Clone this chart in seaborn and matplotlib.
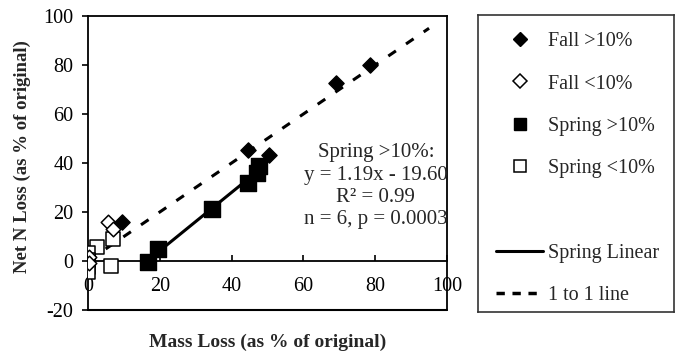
import matplotlib
matplotlib.use("Agg")
import matplotlib.pyplot as plt
import seaborn as sns
from matplotlib.lines import Line2D

sns.set_theme(style="white")
plt.rcParams['font.family'] = ['Liberation Serif', 'DejaVu Serif']
plt.rcParams['axes.unicode_minus'] = False

# Data
fall_hi_x = [9.5, 44.5, 50.5, 69.0, 78.5]
fall_hi_y = [15.8, 45.5, 43.3, 72.6, 80.0]
fall_lo_x = [5.6, 7.0, 0.3, 0.3]
fall_lo_y = [16.0, 13.0, 1.5, -1.0]
spring_hi_x = [16.7, 19.5, 34.5, 44.6, 47.0, 47.6]
spring_hi_y = [-0.3, 4.9, 21.2, 31.8, 35.9, 38.8]
spring_lo_x = [2.4, 7.0, 6.4, 0.0, 0.0, 0.0, 0.0]
spring_lo_y = [5.8, 9.0, -2.0, 3.3, 0.4, -2.4, -4.5]
slope, intercept = 1.19, -19.60
one_to_one = [0, 95]
xticks = [0, 20, 40, 60, 80, 100]
yticks = [-20, 0, 20, 40, 60, 80, 100]
annot_lines = ["Spring >10%:", "y = 1.19x - 19.60", "R² = 0.99", "n = 6, p = 0.0003"]

FS = 14.5

fig = plt.figure(figsize=(6.78, 3.56), dpi=100)
ax = fig.add_axes([88/678, 1-310/356, (447-88)/678, (310-16)/356])

# 1 to 1 line
sns.lineplot(x=one_to_one, y=one_to_one, ax=ax, color='black', lw=2.2,
             linestyle=(0, (3, 4)), zorder=2)
# Spring linear fit
fx = [min(spring_hi_x), max(spring_hi_x)]
fy = [slope*v + intercept for v in fx]
sns.lineplot(x=fx, y=fy, ax=ax, color='black', lw=2.2, zorder=2)

sns.scatterplot(x=spring_lo_x, y=spring_lo_y, ax=ax, marker='s', s=110,
                facecolor='white', edgecolor='black', linewidth=1.1, zorder=3)
sns.scatterplot(x=fall_lo_x, y=fall_lo_y, ax=ax, marker='D', s=55,
                facecolor='white', edgecolor='black', linewidth=1.1, zorder=3)
sns.scatterplot(x=spring_hi_x, y=spring_hi_y, ax=ax, marker='s', s=140,
                color='black', edgecolor='black', linewidth=1, zorder=4)
sns.scatterplot(x=fall_hi_x, y=fall_hi_y, ax=ax, marker='D', s=60,
                color='black', edgecolor='black', linewidth=1, zorder=4)

ax.set_xlim(0, 100)
ax.set_ylim(-20, 100)
ax.set_xticks(xticks)
ax.set_yticks(yticks)
for sp in ax.spines.values():
    sp.set_color('black')
    sp.set_linewidth(1.3)
ax.spines['bottom'].set_position(('data', 0))
ax.axhline(-20, color='black', lw=1.5, clip_on=False, zorder=5)
ax.tick_params(axis='x', direction='in', length=4, width=1.2, pad=11.5,
               labelsize=FS, colors='black', bottom=True)
ax.tick_params(axis='y', direction='out', length=4.5, width=1.2, pad=6,
               labelsize=FS, colors='black', left=True)
ax.set_xlabel("")
ax.set_ylabel("")

fig.text((88+447)/2/678, 1-342/356, "Mass Loss (as % of original)",
         fontsize=14, fontweight='bold', ha='center', va='center')
fig.text(22/678, 1-157/356, "Net N Loss (as % of original)", rotation=90,
         fontsize=13.5, fontweight='bold', ha='center', va='center')

ys = [44.1, 35.1, 26.1, 17.1]
for t, yv in zip(annot_lines, ys):
    ax.text(80.2, yv, t, ha='center', va='center', fontsize=15)

# Legend box
lax = fig.add_axes([478/678, 1-312/356, (674-478)/678, (312-15)/356])
lax.set_xticks([]); lax.set_yticks([])
for sp in lax.spines.values():
    sp.set_color('#333333'); sp.set_linewidth(1.2)
handles = [
    Line2D([], [], marker='D', color='black', ls='none', markersize=7),
    Line2D([], [], marker='D', mfc='white', mec='black', ls='none', markersize=7, mew=1.1),
    Line2D([], [], marker='s', color='black', ls='none', markersize=8.5),
    Line2D([], [], marker='s', mfc='white', mec='black', ls='none', markersize=8.5, mew=1.1),
    Line2D([], [], ls='none'),
    Line2D([], [], color='black', lw=2.2),
    Line2D([], [], color='black', lw=2.5, linestyle=(0, (2.4, 2.2))),
]
labels = ["Fall >10%", "Fall <10%", "Spring >10%", "Spring <10%", " ",
          "Spring Linear", "1 to 1 line"]
lax.legend(handles, labels, loc='center left', bbox_to_anchor=(0.051, 0.5 - 5/297),
           frameon=False, fontsize=FS,
           labelspacing=1.15, handlelength=2.34, handletextpad=0.25,
           borderaxespad=0)

fig.savefig("out.png", dpi=100)
